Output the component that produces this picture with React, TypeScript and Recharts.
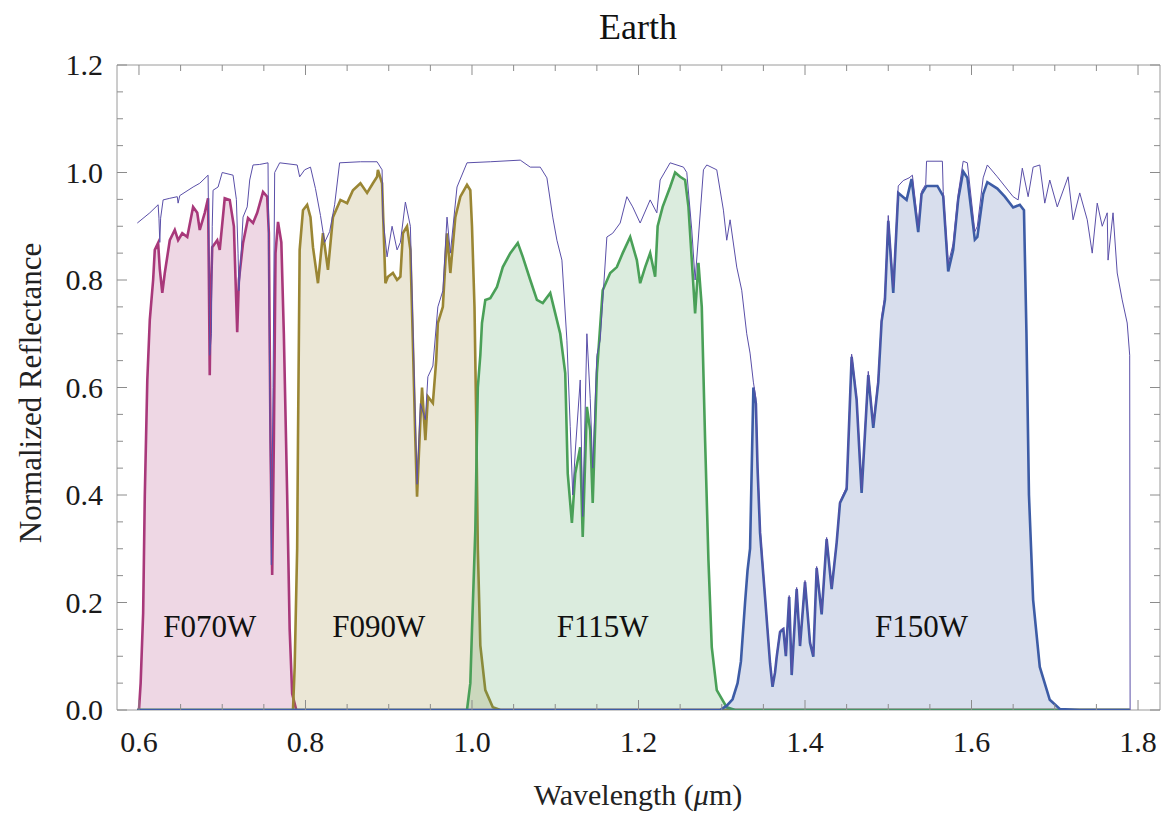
import React from 'react';
import { ComposedChart, Area, Line, XAxis, YAxis, ReferenceArea, ReferenceDot } from 'recharts';

// Earth reflectance spectrum: [wavelength (um), normalized reflectance]
const spectrum: [number, number][] = [
  [0.598, 0.906], [0.613, 0.925], [0.623, 0.94], [0.624, 0.915], [0.625, 0.87], [0.626, 0.915],
  [0.629, 0.949], [0.637, 0.952], [0.646, 0.955], [0.647, 0.943], [0.649, 0.957], [0.665, 0.973],
  [0.673, 0.98], [0.683, 0.995], [0.684, 0.85], [0.685, 0.66], [0.687, 0.7], [0.688, 0.9],
  [0.689, 0.967], [0.695, 0.973], [0.7, 1.0], [0.713, 0.995], [0.717, 0.95], [0.719, 0.85],
  [0.72, 0.78], [0.721, 0.8], [0.725, 0.917], [0.73, 0.936], [0.733, 0.986], [0.737, 1.014],
  [0.745, 1.015], [0.755, 1.018], [0.757, 0.6], [0.759, 0.27], [0.761, 0.6], [0.763, 1.0],
  [0.769, 1.018], [0.79, 1.014], [0.793, 0.992], [0.799, 1.005], [0.806, 1.01], [0.812, 0.97],
  [0.818, 0.92], [0.823, 0.87], [0.829, 0.89], [0.835, 0.94], [0.841, 1.018], [0.866, 1.02],
  [0.886, 1.02], [0.892, 1.005], [0.893, 0.917], [0.898, 0.843], [0.904, 0.9], [0.91, 0.856],
  [0.914, 0.87], [0.92, 0.945], [0.926, 0.9], [0.929, 0.72], [0.934, 0.42], [0.938, 0.57],
  [0.944, 0.54], [0.947, 0.62], [0.953, 0.64], [0.959, 0.75], [0.965, 0.78], [0.97, 0.917],
  [0.974, 0.85], [0.982, 0.973], [0.994, 1.018], [1.022, 1.02], [1.058, 1.023], [1.07, 1.01],
  [1.082, 1.01], [1.09, 0.99], [1.097, 0.917], [1.102, 0.874], [1.108, 0.837], [1.114, 0.688],
  [1.118, 0.527], [1.121, 0.4], [1.124, 0.48], [1.13, 0.614], [1.133, 0.36], [1.138, 0.7],
  [1.142, 0.58], [1.145, 0.45], [1.15, 0.66], [1.154, 0.688], [1.162, 0.88], [1.169, 0.887],
  [1.178, 0.906], [1.186, 0.955], [1.193, 0.936], [1.202, 0.906], [1.214, 0.949], [1.222, 0.925],
  [1.226, 0.986], [1.238, 1.018], [1.254, 1.01], [1.258, 1.0], [1.264, 0.893], [1.268, 0.8],
  [1.272, 0.88], [1.278, 1.005], [1.282, 1.014], [1.294, 1.005], [1.302, 0.93], [1.306, 0.874],
  [1.31, 0.912], [1.318, 0.824], [1.324, 0.781], [1.33, 0.7], [1.334, 0.664], [1.338, 0.61],
  [1.341, 0.58], [1.343, 0.46], [1.346, 0.34], [1.352, 0.215], [1.358, 0.09], [1.361, 0.046],
  [1.364, 0.073], [1.366, 0.102], [1.37, 0.148], [1.374, 0.153], [1.377, 0.103], [1.381, 0.213],
  [1.384, 0.068], [1.39, 0.228], [1.394, 0.122], [1.4, 0.241], [1.406, 0.128], [1.41, 0.102],
  [1.414, 0.267], [1.42, 0.181], [1.426, 0.321], [1.432, 0.228], [1.438, 0.314], [1.442, 0.388],
  [1.45, 0.415], [1.456, 0.662], [1.462, 0.583], [1.468, 0.41], [1.476, 0.63], [1.482, 0.532],
  [1.488, 0.618], [1.492, 0.731], [1.496, 0.772], [1.5, 0.92], [1.506, 0.786], [1.512, 0.975],
  [1.518, 0.985], [1.525, 0.99], [1.529, 0.995], [1.536, 0.9], [1.54, 0.965], [1.545, 0.978],
  [1.546, 1.021], [1.565, 1.021], [1.566, 0.965], [1.572, 0.83], [1.578, 0.868], [1.584, 0.96],
  [1.59, 1.021], [1.595, 1.018], [1.604, 0.89], [1.607, 0.9], [1.614, 0.99], [1.619, 1.014],
  [1.631, 0.992], [1.65, 0.955], [1.656, 0.949], [1.661, 1.008], [1.668, 0.955], [1.674, 1.01],
  [1.682, 1.014], [1.688, 0.943], [1.694, 0.986], [1.703, 0.936], [1.716, 0.992], [1.722, 0.912],
  [1.73, 0.962], [1.739, 0.912], [1.745, 0.85], [1.751, 0.943], [1.757, 0.9], [1.763, 0.925],
  [1.764, 0.837], [1.77, 0.925], [1.775, 0.813], [1.781, 0.763], [1.787, 0.72], [1.79, 0.66],
  [1.7905, 0],
];

// spectrum seen through each NIRCam filter
const f070w: [number, number][] = [
  [0.598, 0], [0.6, 0], [0.602, 0.05], [0.605, 0.18], [0.607, 0.4], [0.61, 0.614],
  [0.613, 0.726], [0.617, 0.8], [0.619, 0.856], [0.623, 0.869], [0.625, 0.82], [0.628, 0.776],
  [0.631, 0.813], [0.637, 0.874], [0.643, 0.893], [0.647, 0.874], [0.652, 0.887], [0.658, 0.88],
  [0.665, 0.936], [0.67, 0.925], [0.673, 0.893], [0.679, 0.925], [0.683, 0.952], [0.684, 0.8],
  [0.685, 0.623], [0.686, 0.75], [0.688, 0.861], [0.694, 0.874], [0.697, 0.856], [0.703, 0.952],
  [0.709, 0.949], [0.714, 0.9], [0.716, 0.8], [0.718, 0.703], [0.72, 0.8], [0.725, 0.869],
  [0.731, 0.915], [0.737, 0.906], [0.742, 0.925], [0.749, 0.964], [0.754, 0.955], [0.756, 0.887],
  [0.758, 0.5], [0.76, 0.251], [0.762, 0.5], [0.764, 0.85], [0.767, 0.908], [0.771, 0.87],
  [0.774, 0.7], [0.778, 0.4], [0.781, 0.15], [0.784, 0.03], [0.789, 0], [1.79, 0],
];

const f090w: [number, number][] = [
  [0.598, 0], [0.785, 0], [0.787, 0.08], [0.79, 0.3], [0.791, 0.502], [0.793, 0.856],
  [0.797, 0.93], [0.802, 0.94], [0.806, 0.917], [0.809, 0.861], [0.815, 0.794], [0.821, 0.887],
  [0.827, 0.819], [0.833, 0.917], [0.842, 0.949], [0.85, 0.943], [0.857, 0.967], [0.866, 0.98],
  [0.874, 0.962], [0.881, 0.98], [0.886, 0.992], [0.887, 1.005], [0.892, 0.98], [0.896, 0.794],
  [0.899, 0.806], [0.905, 0.813], [0.91, 0.8], [0.914, 0.806], [0.917, 0.887], [0.922, 0.9],
  [0.926, 0.856], [0.929, 0.683], [0.932, 0.5], [0.934, 0.397], [0.938, 0.54], [0.94, 0.6],
  [0.944, 0.502], [0.947, 0.583], [0.953, 0.571], [0.957, 0.65], [0.959, 0.72], [0.965, 0.75],
  [0.97, 0.887], [0.974, 0.813], [0.98, 0.917], [0.986, 0.955], [0.994, 0.977], [0.998, 0.967],
  [1.0, 0.9], [1.003, 0.75], [1.005, 0.55], [1.007, 0.3], [1.01, 0.12], [1.016, 0.037],
  [1.025, 0.005], [1.034, 0], [1.79, 0],
];

const f115w: [number, number][] = [
  [0.598, 0], [0.994, 0], [0.998, 0.05], [1.0, 0.149], [1.004, 0.335], [1.006, 0.52],
  [1.007, 0.6], [1.01, 0.66], [1.012, 0.72], [1.016, 0.763], [1.022, 0.766], [1.03, 0.787],
  [1.037, 0.824], [1.046, 0.85], [1.055, 0.869], [1.061, 0.843], [1.07, 0.8], [1.078, 0.763],
  [1.085, 0.757], [1.094, 0.776], [1.1, 0.738], [1.106, 0.7], [1.112, 0.627], [1.115, 0.44],
  [1.12, 0.348], [1.124, 0.44], [1.13, 0.489], [1.133, 0.322], [1.138, 0.564], [1.142, 0.52],
  [1.145, 0.385], [1.15, 0.627], [1.157, 0.781], [1.166, 0.813], [1.174, 0.824], [1.181, 0.85],
  [1.19, 0.88], [1.198, 0.837], [1.202, 0.794], [1.208, 0.824], [1.214, 0.85], [1.22, 0.806],
  [1.223, 0.9], [1.229, 0.936], [1.238, 0.973], [1.244, 1.0], [1.25, 0.992], [1.256, 0.986],
  [1.26, 0.936], [1.264, 0.837], [1.268, 0.738], [1.272, 0.832], [1.276, 0.75], [1.28, 0.502],
  [1.284, 0.279], [1.288, 0.117], [1.294, 0.037], [1.306, 0.005], [1.316, 0], [1.79, 0],
];

const f150w: [number, number][] = [
  [0.598, 0], [1.298, 0], [1.306, 0.008], [1.313, 0.02], [1.319, 0.05], [1.323, 0.09],
  [1.328, 0.2], [1.331, 0.26], [1.334, 0.3], [1.336, 0.45], [1.338, 0.6], [1.341, 0.57],
  [1.343, 0.45], [1.346, 0.33], [1.352, 0.21], [1.358, 0.087], [1.361, 0.043], [1.364, 0.07],
  [1.366, 0.099], [1.37, 0.145], [1.374, 0.15], [1.377, 0.1], [1.381, 0.21], [1.384, 0.065],
  [1.39, 0.225], [1.394, 0.119], [1.4, 0.238], [1.406, 0.125], [1.41, 0.099], [1.414, 0.264],
  [1.42, 0.178], [1.426, 0.318], [1.432, 0.225], [1.438, 0.311], [1.442, 0.385], [1.45, 0.411],
  [1.456, 0.657], [1.462, 0.577], [1.468, 0.404], [1.476, 0.623], [1.482, 0.525], [1.488, 0.61],
  [1.492, 0.723], [1.496, 0.763], [1.5, 0.91], [1.506, 0.776], [1.512, 0.962], [1.522, 0.949],
  [1.528, 0.988], [1.536, 0.889], [1.54, 0.96], [1.546, 0.975], [1.559, 0.975], [1.566, 0.956],
  [1.572, 0.816], [1.578, 0.856], [1.584, 0.95], [1.59, 1.002], [1.595, 0.99], [1.604, 0.875],
  [1.607, 0.88], [1.614, 0.96], [1.619, 0.982], [1.631, 0.97], [1.64, 0.955], [1.65, 0.935],
  [1.658, 0.94], [1.663, 0.93], [1.666, 0.7], [1.669, 0.4], [1.674, 0.205], [1.682, 0.08],
  [1.694, 0.019], [1.706, 0.002], [1.73, 0], [1.79, 0],
];

const filterNames = ['F070W', 'F090W', 'F115W', 'F150W'];
const filterColors = ['#a8387a', '#9a8634', '#4aa058', '#3d5ca6'];
const filterLabelWl = [0.685, 0.888, 1.157, 1.54];
const filterLabelR = 0.156;

const xMajorTicks = [0.6, 0.8, 1.0, 1.2, 1.4, 1.6, 1.8];
const xMinorTicks = [0.65, 0.7, 0.75, 0.85, 0.9, 0.95, 1.05, 1.1, 1.15, 1.25, 1.3, 1.35, 1.45, 1.5, 1.55, 1.65, 1.7, 1.75];
const yMajorTicks = [0, 0.2, 0.4, 0.6, 0.8, 1.0, 1.2];
const yMinorTicks = [0.05, 0.1, 0.15, 0.25, 0.3, 0.35, 0.45, 0.5, 0.55, 0.65, 0.7, 0.75, 0.85, 0.9, 0.95, 1.05, 1.1, 1.15];

const toPoints = (pairs: [number, number][]) => pairs.map(([wl, r]) => ({ wl, r }));
const filterSeries = [f070w, f090w, f115w, f150w].map(toPoints);
const spectrumPoints = toPoints(spectrum);

const W = 1162;
const H = 815;
const PLOT_LEFT = 117;
const PLOT_TOP = 65;
const PLOT_RIGHT = 1160;
const PLOT_BOTTOM = 710;
const X_DOMAIN: [number, number] = [0.5736, 1.8264];
const FONT = '"Liberation Serif", "Times New Roman", serif';
const TICK = '#8c8c8c';

const isIn = (list: number[], v: number) => list.some(t => Math.abs(t - v) < 1e-6);

const XTick = (props: any) => {
  const { x, payload } = props;
  const major = isIn(xMajorTicks, payload.value);
  const len = major ? 10 : 6;
  return (
    <g>
      <line x1={x} x2={x} y1={PLOT_BOTTOM} y2={PLOT_BOTTOM - len} stroke={TICK} />
      <line x1={x} x2={x} y1={PLOT_TOP} y2={PLOT_TOP + len} stroke={TICK} />
      {major && (
        <text x={x} y={PLOT_BOTTOM + 42} textAnchor="middle" fontFamily={FONT} fontSize={30} fill="#1a1a1a">
          {payload.value.toFixed(1)}
        </text>
      )}
    </g>
  );
};

const YTick = (props: any) => {
  const { y, payload } = props;
  const major = isIn(yMajorTicks, payload.value);
  const len = major ? 10 : 6;
  return (
    <g>
      <line x1={PLOT_LEFT} x2={PLOT_LEFT + len} y1={y} y2={y} stroke={TICK} />
      <line x1={PLOT_RIGHT} x2={PLOT_RIGHT - len} y1={y} y2={y} stroke={TICK} />
      {major && (
        <text x={PLOT_LEFT - 14} y={y + 10} textAnchor="end" fontFamily={FONT} fontSize={30} fill="#1a1a1a">
          {payload.value.toFixed(1)}
        </text>
      )}
    </g>
  );
};

export default function App() {
  const xTicks = [...xMajorTicks, ...xMinorTicks].sort((a, b) => a - b);
  const yTicks = [...yMajorTicks, ...yMinorTicks].sort((a, b) => a - b);

  return (
    <div style={{ position: 'absolute', left: 0, top: 0, width: W, height: H, background: '#fff' }}>
      <ComposedChart width={W} height={H} margin={{ top: PLOT_TOP, right: W - PLOT_RIGHT, bottom: 45, left: 0 }}>
        <XAxis
          dataKey="wl"
          type="number"
          domain={X_DOMAIN}
          ticks={xTicks}
          interval={0}
          tick={XTick}
          tickLine={false}
          axisLine={false}
          tickSize={0}
          height={60}
          allowDataOverflow
        />
        <YAxis
          type="number"
          domain={[0, 1.2]}
          ticks={yTicks}
          interval={0}
          tick={YTick}
          tickLine={false}
          axisLine={false}
          tickSize={0}
          width={PLOT_LEFT}
          allowDataOverflow
        />
        <ReferenceArea x1={X_DOMAIN[0]} x2={X_DOMAIN[1]} y1={0} y2={1.2} fill="none" stroke="#9a9a9a" strokeWidth={1} />
        <Line
          data={spectrumPoints}
          dataKey="r"
          type="linear"
          stroke="#5a4fa8"
          strokeWidth={1}
          dot={false}
          activeDot={false}
          isAnimationActive={false}
        />
        {filterSeries.map((pts, i) => (
          <Area
            key={filterNames[i]}
            data={pts}
            dataKey="r"
            type="linear"
            stroke={filterColors[i]}
            strokeWidth={2.6}
            fill={filterColors[i]}
            fillOpacity={0.2}
            activeDot={false}
            isAnimationActive={false}
          />
        ))}
        {filterNames.map((name, i) => (
          <ReferenceDot
            key={name}
            x={filterLabelWl[i]}
            y={filterLabelR}
            r={0}
            fill="none"
            stroke="none"
            label={{ value: name, position: 'center', fontSize: 31, fontFamily: FONT, fill: '#111' }}
          />
        ))}
      </ComposedChart>
      <svg width={W} height={H} style={{ position: 'absolute', left: 0, top: 0, pointerEvents: 'none' }}>
        <text x={638} y={39} textAnchor="middle" fontFamily={FONT} fontSize={36} fill="#111">
          Earth
        </text>
        <text x={638} y={805} textAnchor="middle" fontFamily={FONT} fontSize={30} fill="#222">
          Wavelength (<tspan fontStyle="italic">μ</tspan>m)
        </text>
        <text
          x={41}
          y={393}
          textAnchor="middle"
          fontFamily={FONT}
          fontSize={31}
          fill="#222"
          transform="rotate(-90 41 393)"
        >
          Normalized Reflectance
        </text>
      </svg>
    </div>
  );
}
